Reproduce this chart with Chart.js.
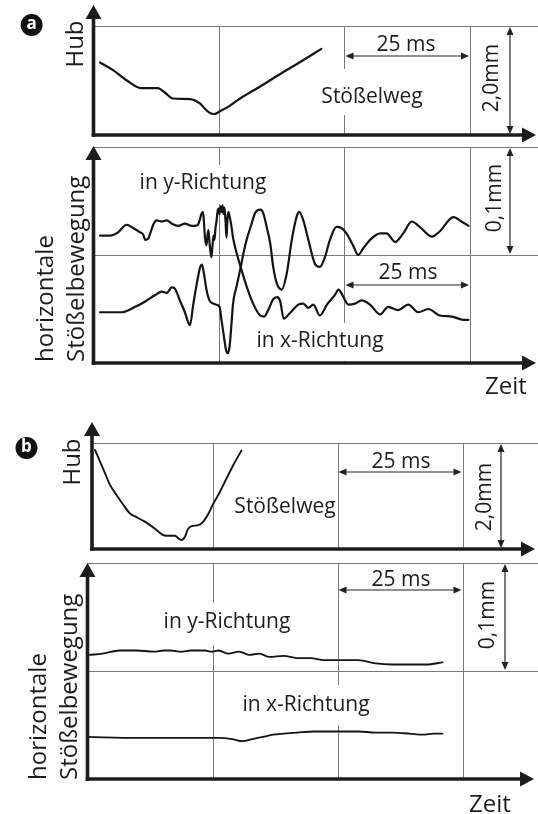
<!DOCTYPE html>
<html><head><meta charset="utf-8">
<script src="https://cdn.jsdelivr.net/npm/chart.js@4.4.1/dist/chart.umd.min.js"></script>
<style>
html,body{margin:0;padding:0;background:#fff;}
#wrap{position:relative;width:538px;height:814px;overflow:hidden;background:#fff;}
canvas{position:absolute;left:0;top:0;}
</style></head><body><div id="wrap">
<canvas id="cA1" width="538" height="814"></canvas>
<canvas id="cA2" width="538" height="814"></canvas>
<canvas id="cB1" width="538" height="814"></canvas>
<canvas id="cB2" width="538" height="814"></canvas>
</div>
<script>
// ---------- data (time in ms, stroke in mm, horizontal motion in µm) ----------
const gridTimesMs = [25, 50, 75];
const dimSpanMs = [50, 75];
const strokeDimMm = [0, 2.0];
const motionDimUm = [100, 200];

// a) Stößelweg
const a_hub_t  = [1.3, 3.9, 6.5, 9.5, 12.8, 14.2, 15.8, 19.2, 21.2, 22.1, 23.1, 24.1, 25.1, 27.2, 29.2, 33.2, 37.2, 41.2, 45.4];
const a_hub_mm = [1.33, 1.19, 1.01, 0.86, 0.86, 0.78, 0.67, 0.66, 0.58, 0.49, 0.41, 0.385, 0.43, 0.54, 0.67, 0.89, 1.12, 1.34, 1.58];

// a) horizontale Stößelbewegung, in y-Richtung
const a_y_t  = [1.3,3.3,4.9,6.6,7.9,9.3,9.9,10.3,10.9,11.3,11.9,12.6,13.6,14.6,15.6,16.9,18.2,19.6,20.2,20.8,21.2,21.5,21.8,22.0,22.2,22.5,22.7,22.9,23.1,23.3,23.5,23.7,23.9,24.1,24.3,24.5,24.7,24.9,25.1,25.3,25.5,25.7,25.9,26.1,26.3,26.5,26.7,26.9,27.1,27.4,27.8,28.5,29.5,30.5,31.8,33.2,34.0,34.8,35.8,36.6,37.2,37.9,39.1,40.8,41.8,42.8,43.8,45.1,46.5,48.1,48.8,49.8,50.8,52.1,53.4,55.1,57.1,58.7,60.7,62.7,64.7,66.7,69.0,71.4,73.7,74.7];
const a_y_um = [118,118,121,128,125,121,119,114,115,120,128,132,131,132,129,127,129,127,127,128,133,138,140,131,116,109,118,123,112,103,98,108,118,114,125,131,140,143,138,145,140,146,138,144,131,116,134,140,136,129,116,102,86,71,55,44,43,49,59,61,57,41,46,54,55,51,54,44,54,63,68,61,54,55,58,54,45,52,49,54,47,50,44,43,40,40];

// a) horizontale Stößelbewegung, in x-Richtung
const a_x_t  = [1.3,5.6,8.3,10.3,12.3,13.6,14.6,15.6,16.2,17.2,18.2,19.2,19.9,20.6,21.2,21.6,22.0,22.5,23.1,23.9,24.5,25.1,25.5,26.0,26.4,26.7,27.1,27.5,27.8,28.5,29.2,29.8,30.5,31.5,32.2,33.2,33.8,34.5,35.2,35.8,36.5,37.5,38.5,39.5,40.5,41.0,41.8,42.8,44.1,45.1,46.1,47.1,48.4,49.4,50.4,51.8,52.7,53.7,55.1,57.1,58.4,60.1,61.7,63.4,65.0,67.4,69.0,71.7,73.3,74.7];
const a_x_um = [47,47,52,57,63,66,65,70,69,58,47,35,55,74,88,91,83,68,58,55,54,52,40,24,12,9,15,37,55,71,86,100,114,129,139,142,139,126,111,89,74,68,83,114,136,140,132,114,92,89,98,114,126,125,120,108,100,106,114,120,120,112,120,131,126,117,122,135,131,127];

// b) Stößelweg
const b_hub_t  = [1.5,2.5,3.5,4.5,5.8,7.2,8.5,9.8,11.2,12.5,13.8,15.2,16.5,17.5,18.2,18.8,19.5,20.0,20.8,22.2,23.2,24.2,25.2,26.5,27.8,29.2,30.8];
const b_hub_mm = [1.87,1.65,1.43,1.21,1.02,0.83,0.67,0.60,0.53,0.45,0.36,0.26,0.25,0.25,0.20,0.17,0.23,0.36,0.43,0.45,0.52,0.67,0.86,1.08,1.33,1.59,1.86];

// b) horizontale Stößelbewegung, in y-Richtung
const b_y_t  = [0.4,3.0,6.4,9.8,13.2,15.3,16.6,18.7,20.7,23.5,24.8,26.2,28.2,30.3,32.3,34.4,36.4,39.2,41.9,44.6,47.3,50.8,54.2,57.6,61.0,64.4,67.8,71.0];
const b_y_um = [115,116,119,119,118,119,119,118,119,119,118,119,116,118,115,116,113,114,112,112,110,110,110,107,106,106,106,108];

// b) horizontale Stößelbewegung, in x-Richtung
const b_x_t  = [0,9.8,16.6,22.1,26.2,28.9,31.0,33.0,35.1,37.1,39.2,41.9,45.3,48.0,50.8,54.2,57.6,61.0,64.4,67.1,69.2,71.0];
const b_x_um = [39,38,38,38,38,37,35,37,39,41,42,43,44,44,44,44,43,43,42,41,42,42];

// ---------- drawing helpers ----------
const W = 538, H = 814;
const FONT = '"Open Sans", "Noto Sans", sans-serif';
const INK = '#1c1c1c';
function line(ctx,x1,y1,x2,y2){ctx.beginPath();ctx.moveTo(x1,y1);ctx.lineTo(x2,y2);ctx.stroke();}
function head(ctx,x,y,dx,dy,len,half){
  const bx=x-dx*len, by=y-dy*len, px=-dy, py=dx;
  ctx.beginPath();ctx.moveTo(x,y);ctx.lineTo(bx+px*half,by+py*half);ctx.lineTo(bx-px*half,by-py*half);ctx.closePath();ctx.fill();
}
function text(ctx,s,x,y,size,rot,align){
  ctx.save();ctx.font=size+'px '+FONT;ctx.fillStyle=INK;ctx.textAlign=align||'center';ctx.textBaseline='middle';
  ctx.translate(x,y);if(rot)ctx.rotate(rot);ctx.fillText(s,0,0);ctx.restore();
}
const R90 = -Math.PI/2;

function deco(L){
  return {
    id:'deco',
    beforeDatasetsDraw(chart){
      const {ctx,chartArea:a,scales:{x,y}}=chart;
      ctx.save();ctx.strokeStyle='#7a7a7a';ctx.lineWidth=1;
      L.hLines.forEach(v=>{const py=Math.round(y.getPixelForValue(v))+0.5;line(ctx,a.left,py,W,py);});
      gridTimesMs.forEach(t=>{const px=Math.round(x.getPixelForValue(t))+0.5;line(ctx,px,a.top,px,a.bottom);});
      ctx.fillStyle='#fff';
      L.boxes.forEach(b=>ctx.fillRect(b[0],b[1],b[2]-b[0],b[3]-b[1]));
      ctx.restore();
    },
    afterDatasetsDraw(chart){
      const {ctx,chartArea:a,scales:{x,y}}=chart;
      ctx.save();
      // time dimension (25 ms)
      ctx.strokeStyle='#222';ctx.fillStyle='#222';ctx.lineWidth=1.2;
      const x1=x.getPixelForValue(dimSpanMs[0]), x2=x.getPixelForValue(dimSpanMs[1]);
      line(ctx,x1+6,L.dimT.py,x2-6,L.dimT.py);
      head(ctx,x1+1,L.dimT.py,-1,0,8,3.5);head(ctx,x2-1,L.dimT.py,1,0,8,3.5);
      text(ctx,'25 ms',L.dimT.tx,L.dimT.ty,21);
      // amplitude dimension
      const yv=L.dimVal, y1=y.getPixelForValue(yv[0]), y2=y.getPixelForValue(yv[1]);
      line(ctx,L.dimV.px,y2+6,L.dimV.px,y1-6);
      head(ctx,L.dimV.px,y2+1,0,-1,8,3.5);head(ctx,L.dimV.px,y1-1,0,1,8,3.5);
      text(ctx,L.dimV.label,L.dimV.tx,L.dimV.ty,21,R90);
      // axes with arrows
      ctx.strokeStyle=INK;ctx.fillStyle=INK;ctx.lineWidth=3.6;
      line(ctx,a.left,a.bottom+1.8,a.left,L.yTip+12);head(ctx,a.left,L.yTip,0,-1,14,8);
      line(ctx,a.left-1.8,a.bottom,L.xTip-12,a.bottom);head(ctx,L.xTip,a.bottom,1,0,14,7.5);
      // labels
      L.labels.forEach(t=>text(ctx,t.s,t.x,t.y,t.size,t.rot,t.align));
      if(L.badge){
        ctx.fillStyle='#111';ctx.beginPath();ctx.arc(L.badge.x,L.badge.y,11,0,Math.PI*2);ctx.fill();
        ctx.font='bold 17px '+FONT;ctx.fillStyle='#fff';ctx.textAlign='center';ctx.textBaseline='middle';
        ctx.fillText(L.badge.s,L.badge.x,L.badge.y-1);
      }
      ctx.restore();
    }
  };
}

function series(label,t,v,w){
  return {label,data:t.map((tt,i)=>({x:tt,y:v[i]})),borderColor:'#141414',borderWidth:w,pointRadius:0,
    cubicInterpolationMode:'monotone',borderJoinStyle:'round',borderCapStyle:'round',fill:false,clip:false};
}

function mk(id,L,datasets,xr,yr){
  return new Chart(document.getElementById(id),{
    type:'line',data:{datasets},
    options:{responsive:false,animation:false,devicePixelRatio:1,events:[],
      layout:{padding:{left:L.area[0],top:L.area[1],right:W-L.area[2],bottom:H-L.area[3]}},
      plugins:{legend:{display:false},tooltip:{enabled:false}},
      scales:{x:{type:'linear',display:false,min:xr[0],max:xr[1]},y:{type:'linear',display:false,min:yr[0],max:yr[1]}}},
    plugins:[deco(L)]
  });
}

// ---------- panels ----------
mk('cA1',{
  area:[93.5,26,538,135],hLines:[2.0],boxes:[[315,69,428,115]],
  yTip:5,xTip:536,
  dimT:{py:56,tx:406,ty:45},dimVal:strokeDimMm,dimV:{px:510,label:'2,0mm',tx:492,ty:78},
  labels:[{s:'Stößelweg',x:372,y:97,size:21},{s:'Hub',x:76,y:44,size:24,rot:R90}],
  badge:{s:'a',x:31.6,y:25}
},[series('Stößelweg',a_hub_t,a_hub_mm,2.2)],[0,88.55],[0,2.0]);

mk('cA2',{
  area:[93.5,147,538,363],hLines:[100,200],boxes:[[135,165,271,204],[252,323,388,361]],
  yTip:146,xTip:536,
  dimT:{py:285,tx:408,ty:273},dimVal:motionDimUm,dimV:{px:510,label:'0,1mm',tx:495,ty:198},
  labels:[{s:'in y-Richtung',x:203,y:183,size:21},{s:'in x-Richtung',x:320,y:341,size:21},
    {s:'horizontale',x:46,y:362,size:24,rot:R90,align:'left'},
    {s:'Stößelbewegung',x:77,y:362,size:24,rot:R90,align:'left'},
    {s:'Zeit',x:506,y:387,size:24}]
},[series('in y-Richtung',a_y_t,a_y_um,2.2),series('in x-Richtung',a_x_t,a_x_um,2.2)],[0,88.55],[0,200]);

mk('cB1',{
  area:[92,443,538,549],hLines:[2.0],boxes:[],
  yTip:422,xTip:535,
  dimT:{py:472,tx:401,ty:462},dimVal:strokeDimMm,dimV:{px:501,label:'2,0mm',tx:485,ty:497},
  labels:[{s:'Stößelweg',x:285,y:507,size:21},{s:'Hub',x:73,y:462,size:24,rot:R90}],
  badge:{s:'b',x:26.5,y:448}
},[series('Stößelweg',b_hub_t,b_hub_mm,1.9)],[0.9,90.1],[0,2.0]);

mk('cB2',{
  area:[87.5,563,538,779],hLines:[100,200],boxes:[[158,603,296,645],[238,685,374,725]],
  yTip:563,xTip:534,
  dimT:{py:590,tx:401,ty:580},dimVal:motionDimUm,dimV:{px:505,label:'0,1mm',tx:488,ty:615},
  labels:[{s:'in y-Richtung',x:227,y:622,size:21},{s:'in x-Richtung',x:306,y:705,size:21},
    {s:'horizontale',x:39,y:780,size:24,rot:R90,align:'left'},
    {s:'Stößelbewegung',x:70,y:780,size:24,rot:R90,align:'left'},
    {s:'Zeit',x:490,y:805,size:24}]
},[series('in y-Richtung',b_y_t,b_y_um,1.8),series('in x-Richtung',b_x_t,b_x_um,1.8)],[0,90.1],[0,200]);
</script>
</body></html>
